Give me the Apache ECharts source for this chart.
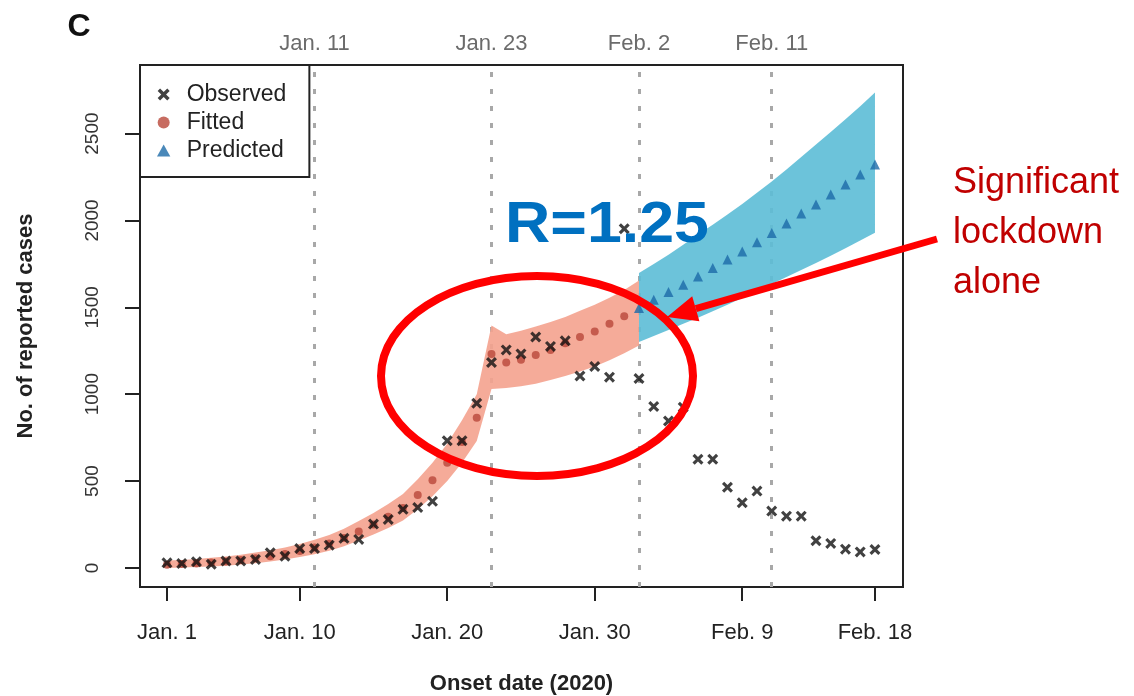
<!DOCTYPE html>
<html><head><meta charset="utf-8">
<script src="https://cdn.jsdelivr.net/npm/echarts@6/dist/echarts.min.js"></script>
<style>html,body{margin:0;padding:0;background:#fff}#c{width:1134px;height:696px}</style>
</head><body><div id="c"></div>
<script>
// ---- data (day index 0 = Jan. 1, 2020) ----
const observedStartDay = 0;
const observedValues = [29,25,35,21,40,40,48,87,67,112,112,131,170,164,252,279,337,348,383,732,732,948,1182,1255,1232,1329,1275,1307,1105,1159,1098,1952,1090,929,846,925,625,625,464,375,442,327,298,298,156,141,108,92,106];
const fittedStartDay = 0;
const fittedValues = [18,22,26,31,37,45,55,67,80,97,117,141,172,210,250,295,345,420,505,605,725,865,1232,1182,1198,1225,1255,1293,1329,1361,1405,1448];
const predictedStartDay = 32;
const predictedValues = [1496,1544,1588,1630,1678,1727,1775,1822,1874,1928,1982,2040,2092,2149,2207,2265,2322];
const fittedBandStartDay = 0;
const fittedBandLower = [0,2,5,8,13,19,27,37,48,62,79,99,125,158,192,230,273,338,412,500,605,730,1030,1035,1045,1060,1082,1105,1130,1160,1195,1235,1280];
const fittedBandUpper = [42,46,51,58,66,76,88,102,118,138,162,190,226,270,316,368,425,510,605,715,850,1000,1395,1345,1365,1390,1415,1445,1480,1515,1555,1600,1655];
const predictedBandStartDay = 32;
const predictedBandLower = [1300,1335,1370,1405,1440,1478,1515,1555,1595,1635,1675,1715,1755,1797,1840,1885,1930];
const predictedBandUpper = [1698,1750,1803,1860,1919,1976,2034,2095,2159,2225,2294,2365,2438,2510,2582,2658,2736];
const xTickDays = [0,9,19,29,39,48];
const xTickLabels = ['Jan. 1','Jan. 10','Jan. 20','Jan. 30','Feb. 9','Feb. 18'];
const refDays = [10,22,32,41];
const refLabels = ['Jan. 11','Jan. 23','Feb. 2','Feb. 11'];
const yTicks = [0,500,1000,1500,2000,2500];

const FONT = '"Liberation Sans", Arial, sans-serif';
const toPairs = (vals, start) => vals.map((v, i) => [start + i, v]);
const crossPath = 'path://M0,2 L2,0 L5,3 L8,0 L10,2 L7,5 L10,8 L8,10 L5,7 L2,10 L0,8 L3,5 Z';
const trianglePath = 'path://M5,0 L10,9 L0,9 Z';

function band(name, start, lo, hi, color) {
  const data = lo.map((v, i) => [start + i, v, hi[i]]);
  return {
    type: 'custom', name: name, silent: true, z: 1, animation: false,
    data: data, encode: { x: 0, y: [1, 2] },
    renderItem: function (params, api) {
      if (params.dataIndex !== 0) return null;
      const top = data.map(d => api.coord([d[0], d[2]]));
      const bot = data.map(d => api.coord([d[0], d[1]])).reverse();
      return { type: 'polygon', shape: { points: top.concat(bot) }, style: { fill: color, opacity: 0.9 } };
    }
  };
}

// arrow geometry (annotation)
const arrowStart = [937, 239], arrowTip = [667, 317];
const adx = arrowStart[0] - arrowTip[0], ady = arrowStart[1] - arrowTip[1];
const alen = Math.hypot(adx, ady), ux = adx / alen, uy = ady / alen;
const headLen = 30, headHalf = 13;
const baseC = [arrowTip[0] + ux * headLen, arrowTip[1] + uy * headLen];
const headPts = [arrowTip, [baseC[0] - uy * headHalf, baseC[1] + ux * headHalf], [baseC[0] + uy * headHalf, baseC[1] - ux * headHalf]];

const chart = echarts.init(document.getElementById('c'));
chart.setOption({
  animation: false,
  backgroundColor: '#fff',
  grid: { left: 140, top: 65, width: 763, height: 522, show: true, borderColor: '#222', borderWidth: 2,
    backgroundColor: 'transparent', containLabel: false, outerBoundsMode: 'none' },
  xAxis: {
    type: 'value', min: -1.83, max: 49.9,
    splitLine: { show: false },
    axisLine: { show: false, onZero: false },
    axisTick: { show: true, customValues: xTickDays, length: 14, lineStyle: { color: '#222', width: 2 } },
    axisLabel: { customValues: xTickDays, margin: 35, fontSize: 22, color: '#222', fontFamily: FONT,
      formatter: v => xTickLabels[xTickDays.indexOf(v)] || '' },
    name: 'Onset date (2020)', nameLocation: 'middle', nameGap: 86,
    nameTextStyle: { fontSize: 22, fontWeight: 'bold', color: '#222', fontFamily: FONT }
  },
  yAxis: {
    type: 'value', min: -110, max: 2895,
    splitLine: { show: false },
    axisLine: { show: false, onZero: false },
    axisTick: { show: true, customValues: yTicks, length: 15, lineStyle: { color: '#222', width: 2 } },
    axisLabel: { customValues: yTicks, rotate: 90, margin: 38, fontSize: 19, color: '#333', fontFamily: FONT,
      formatter: v => String(v) },
    name: 'No. of reported cases', nameLocation: 'middle', nameGap: 103, nameRotate: 90,
    nameTextStyle: { fontSize: 22, fontWeight: 'bold', color: '#222', fontFamily: FONT }
  },
  legend: {
    data: ['Observed', 'Fitted', 'Predicted'], selectedMode: false,
    orient: 'vertical', left: 140, top: 65,
    itemWidth: 36, itemHeight: 12, itemGap: 5,
    padding: [18, 23, 15, 17],
    borderColor: '#222', borderWidth: 2, backgroundColor: '#fff',
    textStyle: { fontSize: 23, color: '#222', fontFamily: FONT, lineHeight: 23 }
  },
  series: [
    { type: 'line', name: 'refs', data: [], z: 0, silent: true,
      markLine: { silent: true, symbol: 'none', animation: false, z: 0,
        lineStyle: { type: [5, 12], color: '#a8a8a8', width: 3 },
        label: { show: true, position: 'end', distance: 10, fontSize: 22, color: '#6b6b6b', fontFamily: FONT,
          formatter: p => refLabels[refDays.indexOf(p.value)] },
        data: refDays.map(d => ({ xAxis: d })) } },
    band('fittedBand', fittedBandStartDay, fittedBandLower, fittedBandUpper, '#f4a28e'),
    band('predictedBand', predictedBandStartDay, predictedBandLower, predictedBandUpper, '#5cbdd6'),
    { type: 'scatter', name: 'Fitted', data: toPairs(fittedValues, fittedStartDay), z: 3,
      symbol: 'circle', symbolSize: 8, itemStyle: { color: '#b9473a' } },
    { type: 'scatter', name: 'Observed', data: toPairs(observedValues, observedStartDay), z: 4,
      symbol: crossPath, symbolSize: 11, itemStyle: { color: '#111' } },
    { type: 'scatter', name: 'Predicted', data: toPairs(predictedValues, predictedStartDay), z: 4,
      symbol: trianglePath, symbolSize: 10, itemStyle: { color: '#1d6aa8' } }
  ],
  graphic: [
    { type: 'text', x: 79, y: 27, z: 10, style: { text: 'C', font: 'bold 32px ' + FONT, fill: '#111', align: 'center', verticalAlign: 'middle' } },
    { type: 'ellipse', z: 20, shape: { cx: 537, cy: 376, rx: 156, ry: 100 }, style: { fill: null, stroke: '#ff0000', lineWidth: 8 } },
    { type: 'line', z: 20, shape: { x1: arrowStart[0], y1: arrowStart[1], x2: baseC[0], y2: baseC[1] }, style: { stroke: '#ff0000', lineWidth: 7 } },
    { type: 'polygon', z: 20, shape: { points: headPts }, style: { fill: '#ff0000' } },
    { type: 'text', x: 607, y: 226, scaleX: 1.1, z: 21, style: { text: 'R=1.25', font: 'bold 57px ' + FONT, fill: '#0070c0', align: 'center', verticalAlign: 'middle' } },
    { type: 'text', x: 953, y: 158, z: 21, style: { text: 'Significant\nlockdown\nalone', font: '36px ' + FONT, lineHeight: 50, fill: '#c00000', align: 'left', verticalAlign: 'top' } }
  ]
});
</script>
</body></html>
